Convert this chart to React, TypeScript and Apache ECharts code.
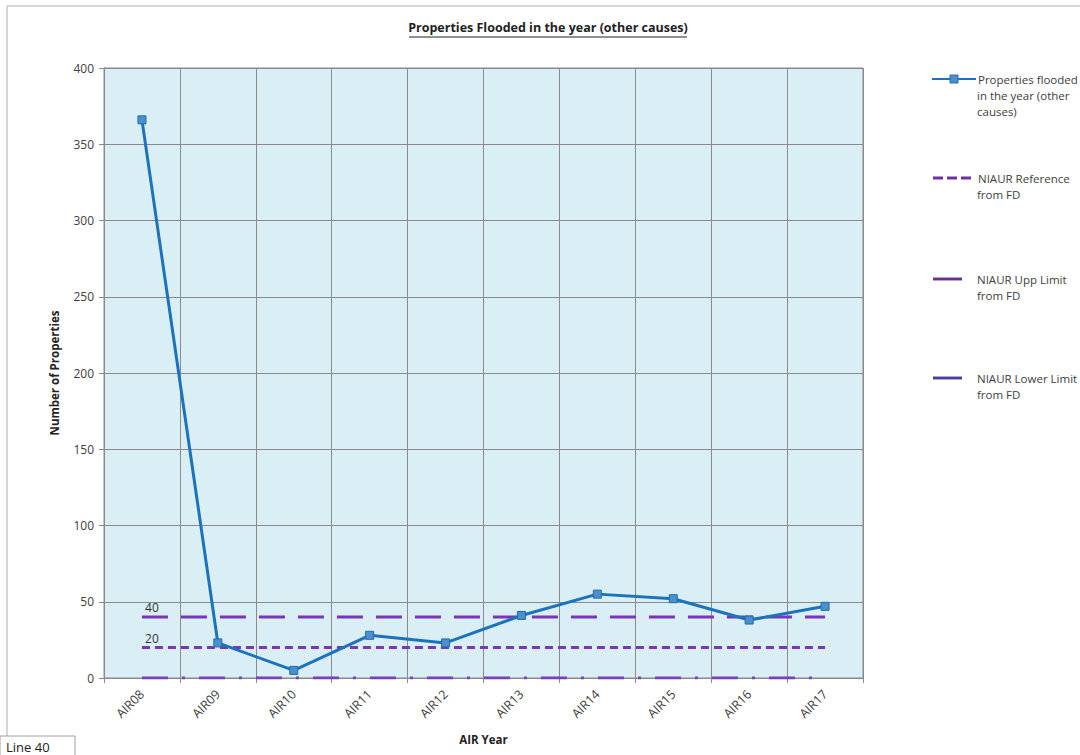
import React, { useEffect, useRef } from "react";
import * as echarts from "echarts";

const categories = ["AIR08", "AIR09", "AIR10", "AIR11", "AIR12", "AIR13", "AIR14", "AIR15", "AIR16", "AIR17"];
const flooded = [366, 23, 5, 28, 23, 41, 55, 52, 38, 47];
const upperLimit = [40, 40, 40, 40, 40, 40, 40, 40, 40, 40];
const reference = [20, 20, 20, 20, 20, 20, 20, 20, 20, 20];
const lowerLimit = [0, 0, 0, 0, 0, 0, 0, 0, 0, 0];

const seriesNames = [
  "Properties flooded in the year (other causes)",
  "NIAUR Reference from FD",
  "NIAUR Upp Limit from FD",
  "NIAUR Lower Limit from FD",
];
const legendFirstLines = ["Properties flooded", "NIAUR Reference", "NIAUR Upp Limit", "NIAUR Lower Limit"];
const legendMoreLines = ["in the year (other\ncauses)", "from FD", "from FD", "from FD"];

const FONT = "'Open Sans', 'Liberation Sans', sans-serif";
const PURPLE = "#7a35b8";

export default function App() {
  const ref = useRef<HTMLDivElement>(null);
  useEffect(() => {
    const chart = echarts.init(ref.current!, null, { renderer: "svg" });
    const iconY = [79, 178, 279, 378];
    const textStyle = (pad: number) => ({
      fontFamily: FONT,
      fontSize: 11.5,
      color: "#404040",
      lineHeight: 16,
      padding: [0, 0, 0, pad],
    });
    const legendBase = { padding: 0, orient: "vertical" };
    const legends = [
      {
        ...legendBase,
        data: [seriesNames[0]],
        left: 931,
        top: iconY[0] - 8,
        itemWidth: 44,
        itemHeight: 10,
        itemStyle: { color: "#4c8fca", borderColor: "#1c6fb0", borderWidth: 1 },
        formatter: () => legendFirstLines[0],
        textStyle: textStyle(-3),
      },
      {
        ...legendBase,
        data: [{ name: seriesNames[1], icon: "path://M0,0h10v3h-10z M14,0h10v3h-10z M28,0h10v3h-10z" }],
        left: 933,
        top: iconY[1] - 8,
        itemWidth: 40,
        itemHeight: 3,
        itemStyle: { color: "#6a33a8" },
        formatter: () => legendFirstLines[1],
        textStyle: textStyle(1),
      },
      {
        ...legendBase,
        data: [{ name: seriesNames[2], icon: "path://M0,0h30v3h-30z" }],
        left: 933,
        top: iconY[2] - 8,
        itemWidth: 29,
        itemHeight: 3,
        itemStyle: { color: "#6a2f8e" },
        formatter: () => legendFirstLines[2],
        textStyle: textStyle(10),
      },
      {
        ...legendBase,
        data: [{ name: seriesNames[3], icon: "path://M0,0h30v3h-30z" }],
        left: 933,
        top: iconY[3] - 8,
        itemWidth: 29,
        itemHeight: 3,
        itemStyle: { color: "#4b3c9e" },
        formatter: () => legendFirstLines[3],
        textStyle: textStyle(10),
      },
    ];
    const moreTexts = legendMoreLines.map((t, i) => ({
      type: "text",
      x: 977,
      y: iconY[i] + 8,
      style: { text: t, font: `11.5px ${FONT}`, fill: "#404040", lineHeight: 16, verticalAlign: "top" },
    }));
    const labelStyle = { show: true, position: "top", offset: [10, 2], formatter: "{c}", color: "#333", fontSize: 12, fontFamily: FONT };
    chart.setOption({
      animation: false,
      backgroundColor: "#ffffff",
      textStyle: { fontFamily: FONT },
      grid: {
        left: 104,
        right: 217,
        top: 68,
        bottom: 77,
        show: true,
        backgroundColor: "#daeef5",
        borderColor: "#8a8a8a",
        borderWidth: 1,
      },
      legend: legends,
      graphic: [
        { type: "rect", shape: { x: 7, y: 6, width: 1100, height: 760 }, style: { fill: "none", stroke: "#b0b0b0", lineWidth: 1 } },
        {
          type: "text",
          x: 548,
          y: 21,
          style: { text: "Properties Flooded in the year (other causes)", font: `bold 12.5px ${FONT}`, fill: "#222", align: "center" },
        },
        { type: "line", shape: { x1: 409, y1: 37, x2: 687, y2: 37 }, style: { stroke: "#222", lineWidth: 1 } },
        ...moreTexts,
        { type: "rect", shape: { x: 0, y: 736, width: 75, height: 24 }, style: { fill: "#fff", stroke: "#a0a0a0", lineWidth: 1 } },
        { type: "text", left: 6, top: 740, style: { text: "Line 40", font: `13px ${FONT}`, fill: "#222" } },
      ],
      xAxis: {
        type: "category",
        data: categories,
        boundaryGap: true,
        name: "AIR Year",
        nameLocation: "middle",
        nameGap: 55,
        nameTextStyle: { fontWeight: "bold", fontSize: 11.5, color: "#222", fontFamily: FONT },
        axisLine: { lineStyle: { color: "#8a8a8a" } },
        axisTick: { show: true, length: 5, lineStyle: { color: "#8a8a8a" } },
        axisLabel: { rotate: 45, fontSize: 12.5, color: "#404040", margin: 14, fontFamily: FONT },
        splitLine: { show: true, lineStyle: { color: "#8a8a8a", width: 1 } },
      },
      yAxis: {
        type: "value",
        min: 0,
        max: 400,
        interval: 50,
        name: "Number of Properties",
        nameLocation: "middle",
        nameGap: 44,
        nameTextStyle: { fontWeight: "bold", fontSize: 11.5, color: "#222", fontFamily: FONT },
        axisLine: { show: true, lineStyle: { color: "#8a8a8a" } },
        axisTick: { show: true, length: 5, lineStyle: { color: "#8a8a8a" } },
        axisLabel: { fontSize: 12, color: "#404040", margin: 10, fontFamily: FONT },
        splitLine: { show: true, lineStyle: { color: "#8a8a8a", width: 1 } },
      },
      series: [
        {
          name: seriesNames[1],
          type: "line",
          data: reference.map((v, i) => (i === 0 ? { value: v, label: labelStyle } : v)),
          symbol: "circle",
          symbolSize: 0.1,
          showSymbol: true,
          lineStyle: { color: PURPLE, width: 3, type: [8, 5] },
          itemStyle: { color: PURPLE },
          z: 2,
        },
        {
          name: seriesNames[2],
          type: "line",
          data: upperLimit.map((v, i) => (i === 0 ? { value: v, label: labelStyle } : v)),
          symbol: "circle",
          symbolSize: 0.1,
          showSymbol: true,
          lineStyle: { color: PURPLE, width: 3, type: [26, 13] },
          itemStyle: { color: PURPLE },
          z: 2,
        },
        {
          name: seriesNames[3],
          type: "line",
          data: lowerLimit,
          symbol: "none",
          lineStyle: { color: "#7a3fc0", width: 3, type: [26, 14, 3, 14] },
          itemStyle: { color: "#7a3fc0" },
          z: 2,
        },
        {
          name: seriesNames[0],
          type: "line",
          data: flooded,
          symbol: "rect",
          symbolSize: 8,
          lineStyle: { color: "#1c73bd", width: 3 },
          itemStyle: { color: "#4c8fca", borderColor: "#1c6fb0", borderWidth: 1 },
          z: 5,
        },
      ],
    });
    return () => chart.dispose();
  }, []);
  return <div ref={ref} style={{ position: "fixed", left: 0, top: 0, width: 1080, height: 755 }} />;
}
